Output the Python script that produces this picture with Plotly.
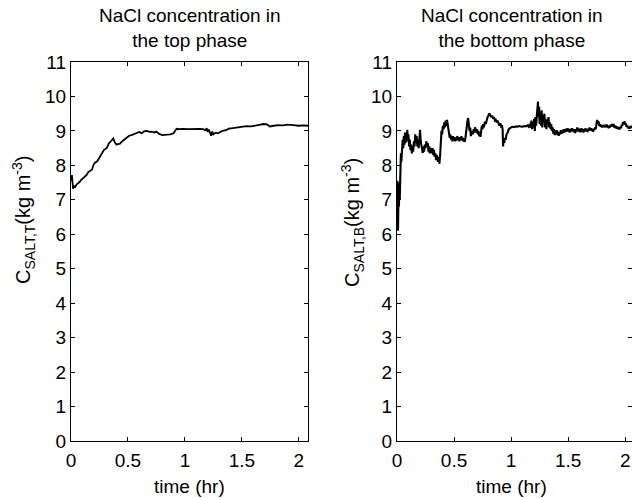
import plotly.graph_objects as go

# ---------------- data ----------------
t_top = [0.000, 0.004, 0.008, 0.012, 0.018, 0.025, 0.035, 0.05, 0.07, 0.09, 0.11, 0.137, 0.15, 0.17,
         0.185, 0.196, 0.21, 0.23, 0.254, 0.27, 0.29, 0.313, 0.335, 0.355, 0.371, 0.385, 0.40, 0.415,
         0.43, 0.45, 0.47, 0.488, 0.51, 0.53, 0.555, 0.576, 0.60, 0.62, 0.64, 0.664, 0.69, 0.71, 0.73,
         0.75, 0.77, 0.80, 0.84, 0.87, 0.90, 0.915, 0.927, 0.95, 0.98, 1.03, 1.07, 1.10, 1.13, 1.16,
         1.18, 1.19, 1.20, 1.21, 1.22, 1.23, 1.24, 1.25, 1.27, 1.29, 1.31, 1.33, 1.36, 1.39, 1.42,
         1.46, 1.50, 1.54, 1.58, 1.62, 1.66, 1.69, 1.72, 1.745, 1.78, 1.82, 1.86, 1.90, 1.95, 2.00,
         2.04, 2.08]
c_top = [7.70, 7.55, 7.72, 7.40, 7.32, 7.40, 7.37, 7.45, 7.50, 7.58, 7.63, 7.72, 7.80, 7.85,
         7.88, 8.00, 8.08, 8.12, 8.25, 8.35, 8.45, 8.50, 8.65, 8.72, 8.78, 8.66, 8.60, 8.62,
         8.63, 8.70, 8.76, 8.81, 8.86, 8.88, 8.92, 8.93, 8.97, 8.93, 8.99, 9.00, 8.97, 8.98, 8.95,
         8.98, 8.92, 8.88, 8.88, 8.90, 8.93, 9.00, 9.06, 9.05, 9.06, 9.05, 9.06, 9.05, 9.06, 9.05,
         9.02, 9.08, 8.97, 9.04, 8.92, 8.86, 8.98, 8.90, 8.95, 8.93, 8.97, 9.00, 9.02, 9.07, 9.08,
         9.10, 9.12, 9.14, 9.13, 9.16, 9.17, 9.20, 9.19, 9.13, 9.15, 9.17, 9.16, 9.18, 9.17, 9.15,
         9.16, 9.15]

t_bottom = [0.000, 0.003, 0.005, 0.007, 0.009, 0.011, 0.014, 0.017, 0.020, 0.024, 0.027, 0.030,
            0.034, 0.038, 0.042, 0.046, 0.050, 0.055, 0.060, 0.065, 0.070, 0.075, 0.080, 0.085,
            0.090, 0.095, 0.100, 0.106, 0.112, 0.118, 0.124, 0.130, 0.136, 0.142, 0.148, 0.154,
            0.160, 0.166, 0.172, 0.178, 0.184, 0.190, 0.196, 0.202, 0.208, 0.214, 0.220, 0.226,
            0.232, 0.238, 0.244, 0.250, 0.257, 0.263, 0.270, 0.276, 0.282, 0.288, 0.294, 0.300,
            0.306, 0.312, 0.318, 0.324, 0.330, 0.336, 0.342, 0.348, 0.354, 0.360, 0.366, 0.372,
            0.378, 0.384, 0.390, 0.396, 0.402, 0.408, 0.414, 0.420, 0.426, 0.432, 0.438, 0.444,
            0.450, 0.456, 0.462, 0.468, 0.474, 0.480, 0.486, 0.492, 0.498, 0.504, 0.510, 0.516,
            0.522, 0.528, 0.534, 0.540, 0.546, 0.552, 0.558, 0.564, 0.570, 0.576, 0.582, 0.588,
            0.594, 0.600, 0.606, 0.612, 0.618, 0.624, 0.630, 0.636, 0.642, 0.648, 0.654, 0.660,
            0.666, 0.672, 0.678, 0.684, 0.690, 0.696, 0.702, 0.708, 0.714, 0.720, 0.726, 0.732,
            0.738, 0.744, 0.750, 0.756, 0.762, 0.770, 0.778, 0.786, 0.794, 0.802, 0.810, 0.818,
            0.826, 0.834, 0.842, 0.850, 0.858, 0.866, 0.874, 0.882, 0.890, 0.898, 0.906, 0.914,
            0.920, 0.926, 0.930, 0.934, 0.940, 0.946, 0.952, 0.960, 0.970, 0.980, 0.990, 1.000,
            1.010, 1.025, 1.040, 1.055, 1.070, 1.085, 1.100, 1.115, 1.130, 1.145, 1.155, 1.165,
            1.172, 1.178, 1.184, 1.190, 1.196, 1.202, 1.208, 1.214, 1.220, 1.226, 1.232, 1.236,
            1.240, 1.246, 1.250, 1.256, 1.262, 1.268, 1.274, 1.280, 1.286, 1.292, 1.298, 1.304,
            1.310, 1.316, 1.322, 1.328, 1.334, 1.340, 1.346, 1.352, 1.358, 1.364, 1.370, 1.376,
            1.382, 1.388, 1.394, 1.400, 1.406, 1.412, 1.418, 1.424, 1.430, 1.436, 1.442, 1.448,
            1.454, 1.460, 1.466, 1.472, 1.478, 1.484, 1.490, 1.496, 1.502, 1.508, 1.514, 1.520,
            1.526, 1.532, 1.538, 1.544, 1.550, 1.556, 1.562, 1.568, 1.574, 1.580, 1.586, 1.592,
            1.598, 1.604, 1.610, 1.616, 1.622, 1.628, 1.634, 1.640, 1.646, 1.652, 1.658, 1.664,
            1.670, 1.676, 1.682, 1.688, 1.694, 1.700, 1.706, 1.712, 1.718, 1.724, 1.730, 1.736,
            1.742, 1.748, 1.754, 1.760, 1.766, 1.772, 1.778, 1.784, 1.790, 1.796, 1.802, 1.808,
            1.814, 1.820, 1.826, 1.832, 1.838, 1.844, 1.850, 1.856, 1.862, 1.868, 1.874, 1.880,
            1.886, 1.892, 1.898, 1.904, 1.910, 1.916, 1.922, 1.928, 1.934, 1.940, 1.946, 1.952,
            1.958, 1.964, 1.970, 1.976, 1.982, 1.988, 1.994, 2.000, 2.006, 2.012, 2.018, 2.024,
            2.030, 2.036, 2.042, 2.048, 2.054, 2.060]
c_bottom = [7.30, 7.55, 6.90, 7.45, 6.10, 7.20, 7.50, 6.80, 7.45, 7.00, 7.40, 8.05,
            8.35, 8.10, 8.55, 8.35, 8.75, 8.50, 8.85, 8.60, 8.95, 8.65, 8.90, 8.70,
            9.03, 8.75, 8.90, 8.55, 8.75, 8.45, 8.60, 8.35, 8.55, 8.40, 8.70, 8.55,
            8.90, 8.65, 8.85, 8.55, 8.75, 8.50, 8.95, 9.03, 8.70, 8.55, 8.45, 8.36,
            8.55, 8.40, 8.60, 8.50, 8.70, 8.55, 8.65, 8.40, 8.55, 8.35, 8.50, 8.45,
            8.35, 8.50, 8.30, 8.45, 8.25, 8.35, 8.15, 8.30, 8.20, 8.10, 8.25, 8.05,
            8.30, 8.75, 9.00, 8.90, 9.15, 9.05, 9.25, 9.10, 9.30, 9.15, 9.32, 9.20,
            9.05, 8.95, 8.80, 8.90, 8.75, 8.85, 8.70, 8.85, 8.72, 8.82, 8.70, 8.80,
            8.72, 8.85, 8.75, 8.80, 8.70, 8.82, 8.72, 8.85, 8.75, 8.80, 8.70, 8.78,
            8.68, 8.80, 9.05, 9.20, 9.30, 9.37, 9.20, 9.00, 9.10, 8.85, 8.95, 9.00,
            8.90, 9.05, 8.95, 9.10, 9.05, 8.95, 9.05, 8.90, 9.00, 8.85, 8.95, 8.83,
            9.00, 9.15, 9.05, 9.20, 9.10, 9.27, 9.20, 9.35, 9.40, 9.45, 9.51, 9.45,
            9.40, 9.45, 9.35, 9.40, 9.30, 9.32, 9.25, 9.30, 9.20, 9.15, 9.22, 9.10,
            9.17, 9.03, 8.55, 8.75, 8.65, 8.80, 8.74, 8.90, 8.95, 9.05, 9.08, 9.10,
            9.12, 9.11, 9.13, 9.12, 9.14, 9.13, 9.12, 9.14, 9.13, 9.16, 9.12, 9.20,
            9.10, 9.30, 9.05, 9.25, 9.10, 9.35, 9.00, 9.40, 9.15, 9.45, 9.60, 9.85,
            9.40, 9.70, 9.20, 9.50, 9.15, 9.60, 9.10, 9.45, 9.25, 9.50, 9.10, 9.35,
            9.05, 9.30, 9.20, 9.40, 9.10, 9.25, 9.05, 9.20, 9.00, 9.10, 8.92, 9.05,
            8.88, 9.00, 8.90, 9.02, 8.88, 8.98, 8.86, 8.95, 8.90, 9.02, 8.92, 9.00,
            8.94, 9.05, 8.95, 9.04, 8.97, 9.06, 8.98, 9.08, 8.98, 9.05, 8.95, 9.06,
            8.98, 9.08, 9.00, 9.06, 8.96, 9.04, 8.94, 9.05, 8.98, 9.10, 9.00, 9.07,
            8.97, 9.05, 8.96, 9.08, 9.00, 9.06, 8.95, 9.04, 8.98, 9.08, 9.00, 9.05,
            8.97, 9.06, 9.00, 9.10, 9.02, 9.08, 9.00, 9.06, 8.98, 9.05, 9.02, 9.10,
            9.05, 9.28, 9.32, 9.20, 9.28, 9.15, 9.20, 9.12, 9.18, 9.10, 9.16, 9.12,
            9.18, 9.10, 9.16, 9.12, 9.19, 9.10, 9.15, 9.08, 9.16, 9.10, 9.18, 9.12,
            9.20, 9.14, 9.20, 9.10, 9.16, 9.08, 9.14, 9.06, 9.12, 9.05, 9.10, 9.04,
            9.12, 9.08, 9.18, 9.15, 9.25, 9.20, 9.28, 9.18, 9.22, 9.12, 9.16, 9.08,
            9.14, 9.06, 9.12, 9.08, 9.12, 9.10]

x_tick_vals = [0, 0.5, 1, 1.5, 2]
x_tick_text = ["0", "0.5", "1", "1.5", "2"]
y_tick_vals = list(range(0, 12))
titles = ["NaCl concentration in<br>the top phase", "NaCl concentration in<br>the bottom phase"]
y_labels = ["C<sub>SALT,T</sub>(kg m<sup>-3</sup>)", "C<sub>SALT,B</sub>(kg m<sup>-3</sup>)"]
x_label = "time (hr)"

# ---------------- figure ----------------
W, H = 632, 498
FONT = "Liberation Sans, Arial, Helvetica, sans-serif"
FS = 19

fig = go.Figure()
fig.add_trace(go.Scatter(x=t_top, y=c_top, mode="lines", line=dict(color="black", width=1.8),
                         xaxis="x", yaxis="y", showlegend=False, hoverinfo="skip"))
fig.add_trace(go.Scatter(x=t_bottom, y=c_bottom, mode="lines", line=dict(color="black", width=2.1),
                         xaxis="x2", yaxis="y2", showlegend=False, hoverinfo="skip"))

ydom = [(H - 441) / H, (H - 62) / H]
left_dom = [71 / W, 308 / W]
right_dom = [397 / W, 1.0]

common_ax = dict(showline=True, linecolor="black", linewidth=1.2, mirror="ticks", ticks="inside",
                 ticklen=4, tickcolor="black", tickwidth=1, showgrid=False, zeroline=False,
                 tickfont=dict(family=FONT, size=FS, color="black"), fixedrange=True)

fig.update_layout(
    width=W, height=H,
    margin=dict(l=0, r=0, t=0, b=0, autoexpand=False),
    paper_bgcolor="white", plot_bgcolor="white",
    font=dict(family=FONT, size=FS, color="black"),
    xaxis=dict(domain=left_dom, range=[0, 2.08], tickvals=x_tick_vals, ticktext=x_tick_text,
               anchor="y", ticklabelstandoff=2, **common_ax),
    yaxis=dict(domain=ydom, range=[0, 11], tickvals=y_tick_vals, anchor="x", **common_ax),
    xaxis2=dict(domain=right_dom, range=[0, 2.06], tickvals=x_tick_vals, ticktext=x_tick_text,
                anchor="y2", ticklabelstandoff=2, **common_ax),
    yaxis2=dict(domain=ydom, range=[0, 11], tickvals=y_tick_vals, anchor="x2", **common_ax),
)

ann = []
centers = [(71 + 308) / 2, (397 + 632) / 2 - 3]
for i in range(2):
    ann.append(dict(text=titles[i], x=centers[i] / W, y=1 - 28 / H, xref="paper", yref="paper",
                    xanchor="center", yanchor="middle", showarrow=False,
                    font=dict(family=FONT, size=FS, color="black")))
    ann.append(dict(text=x_label, x=centers[i] / W, y=1 - 486 / H, xref="paper", yref="paper",
                    xanchor="center", yanchor="middle", showarrow=False,
                    font=dict(family=FONT, size=FS, color="black")))
ylab_x = [24, 352]
ylab_y = [220, 223]
for i in range(2):
    ann.append(dict(text=y_labels[i], x=ylab_x[i] / W, y=1 - ylab_y[i] / H, xref="paper", yref="paper",
                    xanchor="center", yanchor="middle", textangle=-90, showarrow=False,
                    font=dict(family=FONT, size=FS + 1, color="black")))
fig.update_layout(annotations=ann)

fig.write_html("out.html", config={"displayModeBar": False},
               post_script="document.body.style.margin='0px';document.body.style.overflow='hidden';")
